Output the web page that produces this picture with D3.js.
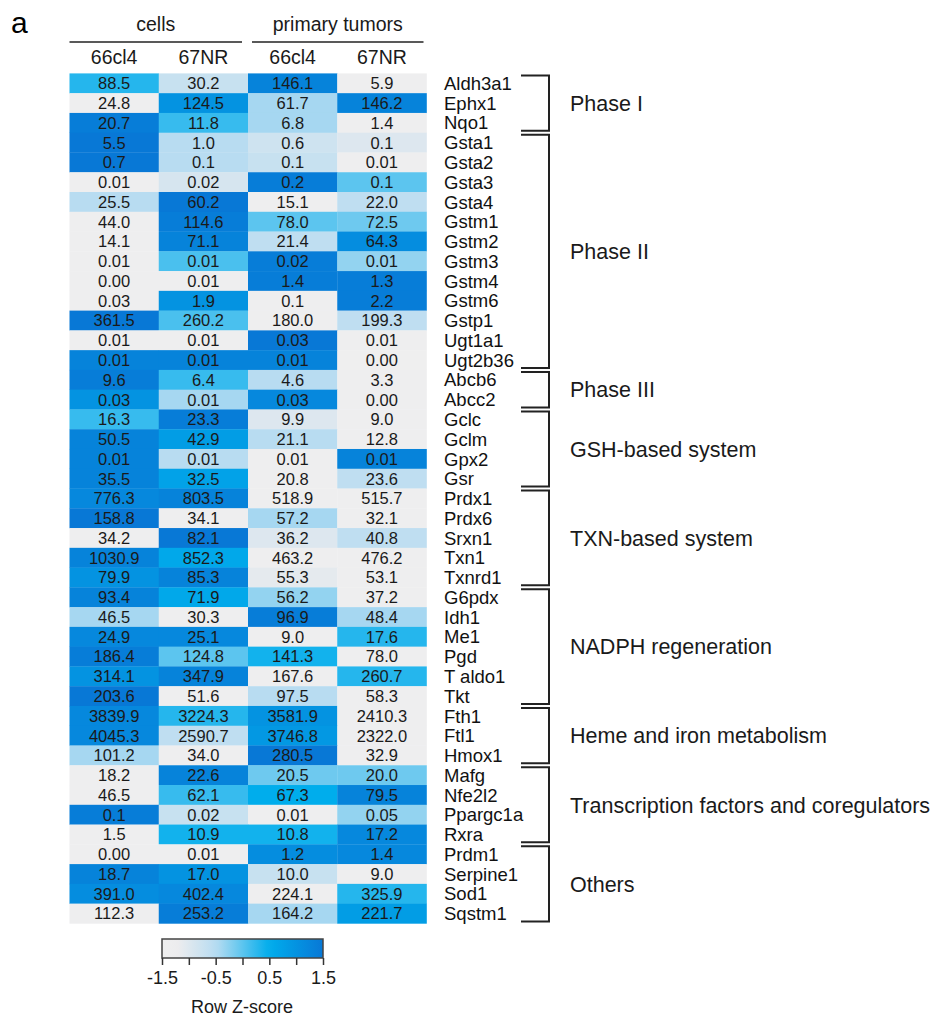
<!DOCTYPE html>
<html>
<head>
<meta charset="utf-8">
<script src="https://cdn.jsdelivr.net/npm/d3@7"></script>
<style>
  body { margin: 0; background: #fff; }
  svg { display: block; font-family: "Liberation Sans", Arial, sans-serif; }
</style>
</head>
<body>
<svg id="chart"></svg>
<script>
// columns of the heatmap
const columns = ["cells_66cl4", "cells_67NR", "tumor_66cl4", "tumor_67NR"]
const columnLabels = ["66cl4", "67NR", "66cl4", "67NR"]

const genes = ["Aldh3a1","Ephx1","Nqo1","Gsta1","Gsta2","Gsta3","Gsta4","Gstm1","Gstm2","Gstm3",
  "Gstm4","Gstm6","Gstp1","Ugt1a1","Ugt2b36","Abcb6","Abcc2","Gclc","Gclm","Gpx2","Gsr",
  "Prdx1","Prdx6","Srxn1","Txn1","Txnrd1","G6pdx","Idh1","Me1","Pgd","T aldo1","Tkt",
  "Fth1","Ftl1","Hmox1","Mafg","Nfe2l2","Ppargc1a","Rxra","Prdm1","Serpine1","Sod1","Sqstm1"]

// numbers printed in the cells (as text, keeps the trailing zeros)
const values = [
  ["88.5","30.2","146.1","5.9"],
  ["24.8","124.5","61.7","146.2"],
  ["20.7","11.8","6.8","1.4"],
  ["5.5","1.0","0.6","0.1"],
  ["0.7","0.1","0.1","0.01"],
  ["0.01","0.02","0.2","0.1"],
  ["25.5","60.2","15.1","22.0"],
  ["44.0","114.6","78.0","72.5"],
  ["14.1","71.1","21.4","64.3"],
  ["0.01","0.01","0.02","0.01"],
  ["0.00","0.01","1.4","1.3"],
  ["0.03","1.9","0.1","2.2"],
  ["361.5","260.2","180.0","199.3"],
  ["0.01","0.01","0.03","0.01"],
  ["0.01","0.01","0.01","0.00"],
  ["9.6","6.4","4.6","3.3"],
  ["0.03","0.01","0.03","0.00"],
  ["16.3","23.3","9.9","9.0"],
  ["50.5","42.9","21.1","12.8"],
  ["0.01","0.01","0.01","0.01"],
  ["35.5","32.5","20.8","23.6"],
  ["776.3","803.5","518.9","515.7"],
  ["158.8","34.1","57.2","32.1"],
  ["34.2","82.1","36.2","40.8"],
  ["1030.9","852.3","463.2","476.2"],
  ["79.9","85.3","55.3","53.1"],
  ["93.4","71.9","56.2","37.2"],
  ["46.5","30.3","96.9","48.4"],
  ["24.9","25.1","9.0","17.6"],
  ["186.4","124.8","141.3","78.0"],
  ["314.1","347.9","167.6","260.7"],
  ["203.6","51.6","97.5","58.3"],
  ["3839.9","3224.3","3581.9","2410.3"],
  ["4045.3","2590.7","3746.8","2322.0"],
  ["101.2","34.0","280.5","32.9"],
  ["18.2","22.6","20.5","20.0"],
  ["46.5","62.1","67.3","79.5"],
  ["0.1","0.02","0.01","0.05"],
  ["1.5","10.9","10.8","17.2"],
  ["0.00","0.01","1.2","1.4"],
  ["18.7","17.0","10.0","9.0"],
  ["391.0","402.4","224.1","325.9"],
  ["112.3","253.2","164.2","221.7"]
]

// row z-scores
const zscores = [
  [0.3,-0.7,1.3,-1.4],
  [-1.4,1.0,-0.4,1.3],
  [1.4,0.2,-0.4,-1.4],
  [1.5,-0.5,-0.8,-1.0],
  [1.5,-0.5,-0.7,-1.4],
  [-1.4,-0.9,1.4,0.0],
  [-0.5,1.5,-1.4,-0.6],
  [-1.4,1.4,0.0,-0.1],
  [-1.4,1.3,-0.6,1.1],
  [-1.4,0.1,1.4,-0.3],
  [-1.4,-1.4,1.4,1.4],
  [-1.4,1.0,-1.4,1.4],
  [1.5,0.1,-1.4,-0.6],
  [-1.4,-1.4,1.5,-1.4],
  [1.3,1.3,1.3,-1.5],
  [1.4,0.2,-0.5,-1.4],
  [1.0,-0.4,1.2,-1.4],
  [0.2,1.4,-1.0,-1.4],
  [1.3,0.8,-0.5,-1.4],
  [1.3,-0.5,-1.4,1.3],
  [1.3,0.7,-1.4,-0.6],
  [1.2,1.3,-1.4,-1.4],
  [1.5,-1.4,-0.4,-1.4],
  [-1.4,1.5,-1.0,-0.6],
  [1.3,0.6,-1.4,-1.4],
  [1.0,1.3,-1.1,-1.4],
  [1.3,0.6,-0.3,-1.4],
  [-0.4,-1.4,1.4,-0.4],
  [1.2,1.2,-1.4,0.3],
  [1.4,0.0,0.4,-1.4],
  [1.0,1.3,-1.4,0.3],
  [1.5,-1.4,-0.5,-1.4],
  [1.2,0.3,1.0,-1.4],
  [1.2,-0.6,0.9,-1.4],
  [-0.4,-1.4,1.5,-1.4],
  [-1.4,1.3,-0.1,-0.1],
  [-1.4,0.2,0.5,1.3],
  [1.4,-0.7,-1.4,-0.3],
  [-1.4,0.4,0.4,1.2],
  [-1.4,-1.4,1.1,1.2],
  [1.3,1.0,-0.7,-1.4],
  [1.1,1.2,-1.4,0.3],
  [-1.4,1.4,-0.4,0.8]
]

const groups = ["Phase I","Phase II","Phase III","GSH-based system","TXN-based system",
  "NADPH regeneration","Heme and iron metabolism","Transcription factors and coregulators","Others"]
const groupSizes = [3, 12, 2, 4, 5, 6, 3, 4, 4]

const colorTicks = [-1.5, -1, -0.5, 0, 0.5, 1, 1.5]

const width = 939, height = 1018
const svg = d3.select("#chart").attr("width", width).attr("height", height)

const x = d3.scaleBand().domain(columns).range([69.5, 426.5])
const y = d3.scaleBand().domain(genes).range([73.4, 923.4])
const color = d3.scaleLinear()
  .domain([-1.5, -1.2, -0.5, 0.5, 1.5])
  .range(["#efefef", "#ececee", "#b8dcf1", "#00adec", "#0878d6"])
  .clamp(true)

// panel letter
svg.append("text").attr("x", 11).attr("y", 33)
  .style("font-size", "30px").text("a")

// top headers
const headers = [
  {name: "cells", from: 0, to: 1},
  {name: "primary tumors", from: 2, to: 3}
]
headers.forEach(h => {
  const x0 = x(columns[h.from]) + (h.from ? 4 : 0)
  const x1 = x(columns[h.to]) + x.bandwidth() - (h.from ? 3 : 6)
  svg.append("line").attr("x1", x0).attr("x2", x1).attr("y1", 42).attr("y2", 42)
    .attr("stroke", "#222").attr("stroke-width", 1.6)
  svg.append("text").attr("x", (x0 + x1) / 2).attr("y", 31)
    .attr("text-anchor", "middle").style("font-size", "19.5px").attr("fill", "#1a1a1a")
    .text(h.name)
})
svg.append("g").selectAll("text")
  .data(columns)
  .join("text")
  .attr("x", d => x(d) + x.bandwidth() / 2)
  .attr("y", 64)
  .attr("text-anchor", "middle")
  .style("font-size", "19.5px").attr("fill", "#1a1a1a")
  .text((d, i) => columnLabels[i])

// cells
const cells = []
genes.forEach((g, r) => columns.forEach((c, k) => {
  cells.push({gene: g, col: c, value: values[r][k], z: zscores[r][k]})
}))

const cellG = svg.append("g").attr("class", "cells")
cellG.selectAll("rect")
  .data(cells)
  .join("rect")
  .attr("x", d => x(d.col))
  .attr("y", d => y(d.gene))
  .attr("width", x.bandwidth() + 0.3)
  .attr("height", y.bandwidth() + 0.3)
  .attr("fill", d => color(d.z))

cellG.selectAll("text")
  .data(cells)
  .join("text")
  .attr("x", d => x(d.col) + x.bandwidth() / 2)
  .attr("y", d => y(d.gene) + y.bandwidth() / 2)
  .attr("dy", "0.36em")
  .attr("text-anchor", "middle")
  .style("font-size", "16.5px").attr("fill", "#1a1a1a")
  .text(d => d.value)

// gene names
svg.append("g").selectAll("text")
  .data(genes)
  .join("text")
  .attr("x", 444)
  .attr("y", d => y(d) + y.bandwidth() / 2)
  .attr("dy", "0.36em")
  .style("font-size", "18.5px").attr("fill", "#111")
  .text(d => d)

// group brackets
let start = 0
const bracketG = svg.append("g").attr("class", "brackets")
groups.forEach((name, i) => {
  const top = y(genes[start]) + 2
  const bottom = y(genes[start + groupSizes[i] - 1]) + y.bandwidth() - 2
  bracketG.append("path")
    .attr("d", `M521,${top} H549 V${bottom} H521`)
    .attr("fill", "none").attr("stroke", "#222").attr("stroke-width", 2)
  bracketG.append("text")
    .attr("x", 570).attr("y", (top + bottom) / 2).attr("dy", "0.36em")
    .style("font-size", "21.5px").attr("fill", "#1a1a1a")
    .text(name)
  start += groupSizes[i]
})

// colour key
const key = d3.scaleLinear().domain([-1.5, 1.5]).range([162, 323])
const grad = svg.append("defs").append("linearGradient").attr("id", "zgrad")
d3.range(0, 1.0001, 0.05).forEach(t => {
  grad.append("stop").attr("offset", t).attr("stop-color", color(-1.5 + 3 * t))
})
svg.append("rect").attr("x", 162).attr("y", 939).attr("width", 161).attr("height", 19)
  .attr("fill", "url(#zgrad)").attr("stroke", "#444").attr("stroke-width", 1.5)

const keyAxis = d3.axisBottom(key)
  .tickValues(colorTicks)
  .tickSize(7)
  .tickFormat(d => (Math.round(d * 2) % 2 !== 0) ? d3.format(".1f")(d) : "")
const ax = svg.append("g").attr("transform", "translate(0,958)").call(keyAxis)
ax.select(".domain").remove()
ax.selectAll(".tick line").attr("stroke", "#333").attr("stroke-width", 1.5)
ax.selectAll(".tick text").attr("y", 13).style("font-size", "18px")
  .style("font-family", "Liberation Sans, Arial, sans-serif").attr("fill", "#1a1a1a")
  .text(d => (Math.round(d * 2) % 2 !== 0) ? d3.format(".1f")(d).replace("\u2212", "-") : "")

svg.append("text").attr("x", 242).attr("y", 1013).attr("text-anchor", "middle")
  .style("font-size", "18px").attr("fill", "#1a1a1a").text("Row Z-score")
</script>
</body>
</html>
